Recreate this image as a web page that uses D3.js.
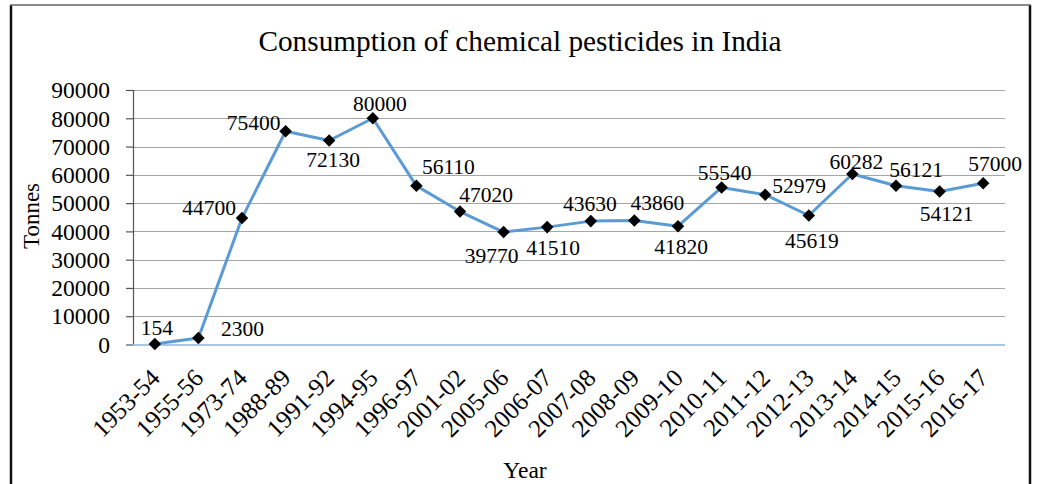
<!DOCTYPE html>
<html>
<head>
<meta charset="utf-8">
<script src="https://cdn.jsdelivr.net/npm/d3@7/dist/d3.min.js"></script>
<style>
  html, body { margin: 0; padding: 0; background: #fff; }
  svg { display: block; }
  text { font-family: "Liberation Serif", "Times New Roman", serif; fill: #000; }
</style>
</head>
<body>
<svg id="chart" width="1038" height="484"></svg>
<script>
const categories = ["1953-54","1955-56","1973-74","1988-89","1991-92","1994-95","1996-97","2001-02","2005-06","2006-07","2007-08","2008-09","2009-10","2010-11","2011-12","2012-13","2013-14","2014-15","2015-16","2016-17"];
const tonnes = [154, 2300, 44700, 75400, 72130, 80000, 56110, 47020, 39770, 41510, 43630, 43860, 41820, 55540, 52979, 45619, 60282, 56121, 54121, 57000];
const yTicks = [0, 10000, 20000, 30000, 40000, 50000, 60000, 70000, 80000, 90000];
const title = "Consumption of chemical pesticides in India";
const xTitle = "Year";
const yTitle = "Tonnes";

// label offsets (pixels) relative to each marker centre, as placed in the original
const labelOffsets = [[2,-17],[44,-10],[-33,-11],[-32,-9],[4,19],[7,-15],[32,-19],[26,-17],[-12,23],[6,20],[-1,-18],[23,-18],[3,20],[3,-15],[34,-9],[3,25],[4,-13],[20,-16],[7,22],[12,-20]];

const svg = d3.select("#chart");
const W = 1038, H = 484;
const plot = {left: 133, right: 1005, top: 90, bottom: 344.5};

// outer frame
svg.append("line").attr("x1", 11).attr("x2", 11).attr("y1", 5).attr("y2", H).attr("stroke", "#111").attr("stroke-width", 2.5);
svg.append("line").attr("x1", 1030).attr("x2", 1030).attr("y1", 5).attr("y2", H).attr("stroke", "#111").attr("stroke-width", 2.5);
svg.append("line").attr("x1", 10).attr("x2", 1031).attr("y1", 5).attr("y2", 5).attr("stroke", "#666").attr("stroke-width", 1.5);

const x = d3.scalePoint().domain(categories).range([plot.left, plot.right]).padding(0.5);
const y = d3.scaleLinear().domain([0, 90000]).range([plot.bottom, plot.top]);

// gridlines
svg.append("g").selectAll("line").data(yTicks.filter(d => d > 0)).join("line")
  .attr("x1", plot.left).attr("x2", plot.right)
  .attr("y1", d => Math.round(y(d)) + 0.5).attr("y2", d => Math.round(y(d)) + 0.5)
  .attr("stroke", "#a6a6a6").attr("stroke-width", 1.2);

// y axis
const yAxis = svg.append("g").attr("transform", `translate(${plot.left},0)`)
  .call(d3.axisLeft(y).tickValues(yTicks).tickSize(7).tickPadding(16).tickFormat(d3.format("d")));
yAxis.select(".domain").attr("stroke", "#555").attr("stroke-width", 1.2).attr("d", `M0.5,${plot.top}V${plot.bottom}`);
yAxis.selectAll(".tick line").attr("stroke", "#555").attr("stroke-width", 1.2);
yAxis.selectAll(".tick text").attr("font-size", "23.5px").attr("font-family", "Liberation Serif").attr("fill", "#000").attr("dy", "0.33em");

// x axis
const xAxis = svg.append("g").attr("transform", `translate(0,${plot.bottom})`)
  .call(d3.axisBottom(x).tickSize(0).tickPadding(0));
xAxis.select(".domain").attr("stroke", "#8db4e2").attr("stroke-width", 1.5).attr("d", `M${plot.left},0.5H${plot.right}`);
xAxis.selectAll(".tick text")
  .attr("font-size", "25px").attr("font-family", "Liberation Serif").attr("fill", "#000")
  .attr("text-anchor", "end").attr("dy", 0).attr("y", 0)
  .attr("transform", "translate(6,35) rotate(-45)");

// line
svg.append("path").datum(tonnes)
  .attr("fill", "none").attr("stroke", "#5b9bd5").attr("stroke-width", 3).attr("stroke-linejoin", "round")
  .attr("d", d3.line().x((d, i) => x(categories[i])).y(d => y(d)));

// markers
svg.append("g").selectAll("path").data(tonnes).join("path")
  .attr("transform", (d, i) => `translate(${x(categories[i])},${y(d)})`)
  .attr("d", d3.symbol().type(d3.symbolDiamond2).size(100))
  .attr("fill", "#000");

// data labels
svg.append("g").selectAll("text").data(tonnes).join("text")
  .attr("x", (d, i) => x(categories[i]) + labelOffsets[i][0])
  .attr("y", (d, i) => y(d) + labelOffsets[i][1])
  .attr("dy", "0.35em").attr("text-anchor", "middle")
  .attr("font-size", "21.5px")
  .text(d => d);

// titles
svg.append("text").attr("x", 520).attr("y", 51).attr("text-anchor", "middle").attr("font-size", "29.3px").text(title);
svg.append("text").attr("x", 525).attr("y", 478).attr("text-anchor", "middle").attr("font-size", "23.5px").text(xTitle);
svg.append("text").attr("transform", "translate(39,216) rotate(-90)").attr("text-anchor", "middle").attr("font-size", "23px").text(yTitle);
</script>
</body>
</html>
